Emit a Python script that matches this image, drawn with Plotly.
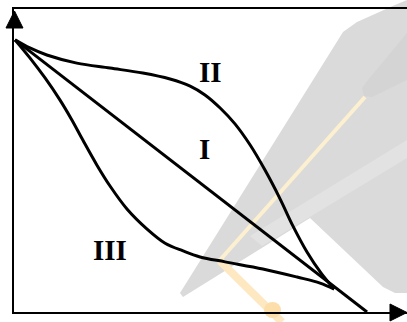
import plotly.graph_objects as go

W, H = 407, 322

# ---- data ----
line_I_x = [0.03, 10.0]
line_I_y = [7.71, 0.0]

curve_II_x = [0.03, 0.45, 0.93, 1.78, 2.72, 3.65, 4.42, 4.99, 5.41, 5.84, 6.26, 6.69, 7.11, 7.54, 7.90, 8.30, 8.70, 9.07]
curve_II_y = [7.71, 7.48, 7.28, 7.05, 6.91, 6.77, 6.60, 6.40, 6.15, 5.78, 5.33, 4.73, 4.02, 3.20, 2.44, 1.70, 1.10, 0.65]

curve_III_x = [0.03, 0.45, 0.88, 1.30, 1.64, 1.95, 2.35, 2.72, 3.20, 3.77, 4.28, 4.79, 5.27, 5.98, 7.05, 8.02, 8.67, 9.07]
curve_III_y = [7.71, 7.20, 6.63, 6.01, 5.44, 4.87, 4.16, 3.57, 2.92, 2.35, 1.95, 1.73, 1.56, 1.42, 1.22, 0.99, 0.82, 0.65]

labels = ["I", "II", "III"]
label_x = [5.41, 5.58, 2.72]
label_y = [4.62, 6.80, 1.76]

x_range = [0, 11.133]
y_range = [0, 8.584]

# ---- figure ----
fig = go.Figure()
for xs, ys in [(line_I_x, line_I_y), (curve_II_x, curve_II_y), (curve_III_x, curve_III_y)]:
    fig.add_trace(go.Scatter(x=xs, y=ys, mode="lines",
                             line=dict(color="black", width=3, shape="spline", smoothing=1.0),
                             hoverinfo="skip", showlegend=False))

for t, lx, ly in zip(labels, label_x, label_y):
    fig.add_annotation(x=lx, y=ly, text=t, showarrow=False,
                       font=dict(family="Liberation Serif, Times New Roman, serif", size=29,
                                 color="black", weight="bold"),
                       xanchor="center", yanchor="middle")


def P(px, py):
    return f"{px / W:.5f},{1 - py / H:.5f}"


def path(points, close=True):
    s = "M " + " L ".join(P(a, b) for a, b in points)
    return s + (" Z" if close else "")


shapes = []
# watermark decoration (background)
shapes.append(dict(type="path", xref="paper", yref="paper", layer="below",
                   path=path([(180, 293), (343, 32), (357, 22), (395, 5), (407, 0), (407, 293),
                              (395, 293), (383, 287), (310, 218), (183, 297)]),
                   fillcolor="rgb(218,218,218)", line=dict(width=0)))
shapes.append(dict(type="path", xref="paper", yref="paper", layer="below",
                   path=path([(250, 236), (407, 140), (407, 158), (262, 246)]),
                   fillcolor="rgb(226,226,226)", line=dict(width=0)))
shapes.append(dict(type="path", xref="paper", yref="paper", layer="below",
                   path=path([(362, 88), (368, 80), (407, 33), (407, 80), (372, 97), (364, 96)]),
                   fillcolor="rgb(212,212,212)", line=dict(width=0)))
shapes.append(dict(type="path", xref="paper", yref="paper", layer="below",
                   path=path([(220, 260), (365, 97)], close=False),
                   line=dict(color="rgb(253,240,208)", width=4)))
shapes.append(dict(type="path", xref="paper", yref="paper", layer="below",
                   path=path([(220, 261), (282, 322)], close=False),
                   line=dict(color="rgb(253,232,194)", width=8)))
shapes.append(dict(type="circle", xref="paper", yref="paper", layer="below",
                   x0=264 / W, x1=281 / W, y0=1 - 318 / H, y1=1 - 302 / H,
                   fillcolor="rgb(252,222,170)", line=dict(width=0)))

# axis arrowheads
shapes.append(dict(type="path", xref="paper", yref="paper",
                   path=path([(14.5, 11), (6, 28), (23, 28)]),
                   fillcolor="black", line=dict(color="black", width=1)))
shapes.append(dict(type="path", xref="paper", yref="paper",
                   path=path([(407, 312.5), (390, 304), (390, 321)]),
                   fillcolor="black", line=dict(color="black", width=1)))

fig.update_layout(
    width=W, height=H, autosize=False,
    margin=dict(l=0, r=0, t=0, b=0),
    paper_bgcolor="white", plot_bgcolor="rgba(0,0,0,0)",
    shapes=shapes,
    xaxis=dict(domain=[14 / W, 1], range=x_range, showgrid=False, zeroline=False,
               showticklabels=False, ticks="", showline=True, linecolor="black",
               linewidth=2.2, mirror=True, fixedrange=True),
    yaxis=dict(domain=[(H - 312) / H, (H - 9) / H], range=y_range, showgrid=False,
               zeroline=False, showticklabels=False, ticks="", showline=True,
               linecolor="black", linewidth=2.2, mirror=False, fixedrange=True),
)

fig.write_html("out.html", config={"displayModeBar": False, "staticPlot": True},
               post_script="document.body.style.margin='0';document.body.style.overflow='hidden';")
